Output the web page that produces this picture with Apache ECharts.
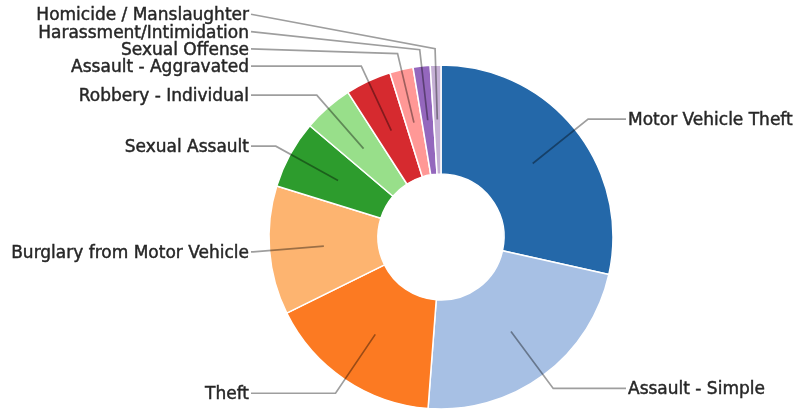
<!DOCTYPE html>
<html>
<head>
<meta charset="utf-8">
<script src="https://cdn.jsdelivr.net/npm/echarts@6/dist/echarts.min.js"></script>
<style>
  html, body { margin: 0; padding: 0; background: #fff; }
  #chart { width: 797px; height: 415px; }
</style>
</head>
<body>
<div id="chart"></div>
<script>
// Incident categories and their shares (per mille)
const categories = [
  'Motor Vehicle Theft',
  'Assault - Simple',
  'Theft',
  'Burglary from Motor Vehicle',
  'Sexual Assault',
  'Robbery - Individual',
  'Assault - Aggravated',
  'Sexual Offense',
  'Harassment/Intimidation',
  'Homicide / Manslaughter'
];
const values = [285, 227, 165, 121, 64, 47, 43, 22, 16, 10];
const colors = [
  '#2468a9', '#a7c0e4', '#fc7a22', '#fdb470', '#2d9c2d',
  '#98df8a', '#d62a2f', '#ff9896', '#9467bd', '#c5b0d5'
];

// Ring geometry
const CENTER = [441, 237];
const RING = [63, 172];
const MID_R = (RING[0] + RING[1]) / 2;   // leader lines start at the ring centroid
const LINE_LEN = 71;                      // radial part of the leader line
const LABEL_GAP = 17.3;                   // minimum vertical spacing of stacked labels
const TEXT_DROP = 1.5;                    // text sits slightly below its leader line
const LEFT_X = CENTER[0] - 192;           // right edge of left-hand labels
const RIGHT_X = CENTER[0] + 187;          // left edge of right-hand labels

const pieData = categories.map((name, i) => ({
  name, value: values[i], itemStyle: { color: colors[i] }
}));

// Labels on the upper left are stacked upwards so they do not collide;
// the elbow of the leader line stays at its radial position.
let prevLeftY = null;
function layoutLabel(params) {
  const pts = params.labelLinePoints;
  if (!pts) return {};
  if (params.dataIndex === 0) prevLeftY = null;
  const start = [pts[0][0], pts[0][1]];
  const elbow = [pts[1][0], pts[1][1]];
  const left = elbow[0] < CENTER[0];
  let y = elbow[1];
  if (left && y < CENTER[1]) {
    if (prevLeftY !== null) y = Math.min(y, prevLeftY - LABEL_GAP);
    prevLeftY = y;
  }
  const endX = left ? LEFT_X + 2 : RIGHT_X - 2;
  return {
    x: left ? LEFT_X : RIGHT_X,
    y: y + TEXT_DROP,
    align: left ? 'right' : 'left',
    verticalAlign: 'middle',
    labelLinePoints: [start, elbow, [endX, y]]
  };
}

const chart = echarts.init(document.getElementById('chart'), null, { renderer: 'canvas' });
chart.setOption({
  backgroundColor: '#ffffff',
  animation: false,
  series: [
    {
      // the donut itself
      type: 'pie',
      center: CENTER,
      radius: RING,
      startAngle: 90,
      clockwise: true,
      silent: true,
      avoidLabelOverlap: false,
      itemStyle: { borderColor: '#ffffff', borderWidth: 1.5 },
      label: { show: false },
      labelLine: { show: false },
      data: pieData
    },
    {
      // transparent companion pie whose outer edge is the ring centroid,
      // used to place the labels and leader lines
      type: 'pie',
      center: CENTER,
      radius: [0, MID_R],
      startAngle: 90,
      clockwise: true,
      silent: true,
      z: 3,
      avoidLabelOverlap: false,
      itemStyle: { color: 'rgba(0,0,0,0)', borderWidth: 0 },
      label: {
        show: true,
        position: 'outside',
        fontFamily: 'DejaVu Sans',
        fontSize: 17,
        color: '#262626',
        textBorderColor: '#262626',
        textBorderWidth: 0.45
      },
      labelLine: {
        show: true,
        length: LINE_LEN,
        length2: 10,
        smooth: false,
        lineStyle: { color: 'rgba(0,0,0,0.38)', width: 1.7 }
      },
      labelLayout: layoutLabel,
      emphasis: { disabled: true },
      data: categories.map((name, i) => ({ name, value: values[i] }))
    }
  ]
});
</script>
</body>
</html>
